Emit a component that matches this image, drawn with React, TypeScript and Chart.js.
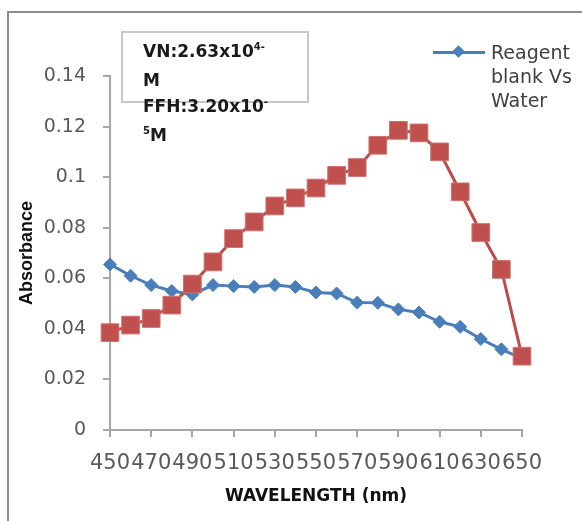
import React, { useEffect, useRef } from "react";
import { Chart, registerables } from "chart.js";

Chart.register(...registerables);

const wavelengths = [450, 460, 470, 480, 490, 500, 510, 520, 530, 540, 550, 560, 570, 580, 590, 600, 610, 620, 630, 640, 650];
const blankValues = [0.0655, 0.061, 0.0573, 0.055, 0.0536, 0.0573, 0.0569, 0.0566, 0.0573, 0.0566, 0.0544, 0.054, 0.0504, 0.0503, 0.0477, 0.0465, 0.0428, 0.0408, 0.036, 0.0319, 0.0283];
const sampleValues = [0.0385, 0.0415, 0.0441, 0.0494, 0.0577, 0.0665, 0.0757, 0.0823, 0.0886, 0.0918, 0.0957, 0.1007, 0.1038, 0.1126, 0.1185, 0.1175, 0.11, 0.0942, 0.0781, 0.0635, 0.0292];
const blankLabel = "Reagent blank Vs Water";
const xTitle = "WAVELENGTH (nm)";
const yTitle = "Absorbance";

const BLUE = "#4a7ebb";
const RED = "#be4b48";
const AXIS = "#a6a6a6";

export default function App() {
  const ref = useRef<HTMLCanvasElement | null>(null);

  useEffect(() => {
    if (!ref.current) return;
    const chart = new Chart(ref.current, {
      type: "line",
      data: {
        datasets: [
          {
            label: "",
            data: wavelengths.map((w, i) => ({ x: w, y: sampleValues[i] })),
            borderColor: RED,
            backgroundColor: "#c0504d",
            borderWidth: 3,
            pointStyle: "rect",
            pointRadius: 12.5,
            pointBorderWidth: 1,
            pointBorderColor: "#cc7270",
            pointBackgroundColor: "#c0504d",
            clip: false as any,
          },
          {
            label: blankLabel,
            data: wavelengths.map((w, i) => ({ x: w, y: blankValues[i] })),
            borderColor: BLUE,
            backgroundColor: BLUE,
            borderWidth: 3,
            pointStyle: "rectRot",
            pointRadius: 6.5,
            pointBorderWidth: 1,
            pointBorderColor: BLUE,
            pointBackgroundColor: BLUE,
            clip: false as any,
          },
        ],
      },
      options: {
        animation: false,
        responsive: false,
        maintainAspectRatio: false,
        layout: { padding: { top: 76, right: 60, left: 0, bottom: 0 } },
        plugins: { legend: { display: false }, tooltip: { enabled: false } },
        scales: {
          x: {
            type: "linear",
            min: 450,
            max: 650,
            afterFit: (s: any) => { s.height = 91; },
            ticks: {
              stepSize: 20,
              maxRotation: 0,
              autoSkip: false,
              padding: 14,
              color: "#595959",
              font: { family: "DejaVu Sans", size: 21 },
              callback: (v: any) => String(v),
            },
            grid: { display: true, drawOnChartArea: false, drawTicks: true, tickLength: 7, color: AXIS, lineWidth: 2 },
            border: { display: true, color: AXIS, width: 2 },
            title: {
              display: true,
              text: xTitle,
              color: "#111",
              font: { family: "DejaVu Sans", size: 17, weight: "bold" },
              padding: { top: 0, bottom: 14 },
            },
          },
          y: {
            type: "linear",
            min: 0,
            max: 0.14,
            afterFit: (s: any) => { s.width = 110; },
            ticks: {
              stepSize: 0.02,
              padding: 17,
              color: "#595959",
              font: { family: "DejaVu Sans", size: 19 },
              callback: (v: any) => String(+Number(v).toFixed(2)),
            },
            grid: { display: true, drawOnChartArea: false, drawTicks: true, tickLength: 7, color: AXIS, lineWidth: 2 },
            border: { display: true, color: AXIS, width: 2 },
            title: {
              display: true,
              text: yTitle,
              color: "#111",
              font: { family: "Liberation Sans", size: 18, weight: "bold" },
              padding: { top: 16, bottom: 0 },
            },
          },
        },
      },
    });
    return () => chart.destroy();
  }, []);

  return (
    <div style={{ position: "fixed", left: 0, top: 0, width: 582, height: 521, overflow: "hidden", background: "#fff" }}>
      <div style={{ position: "absolute", left: 7, top: 11, width: 700, height: 700, border: "2px solid #8c8c8c", boxSizing: "border-box" }} />
      <canvas ref={ref} width={582} height={521} style={{ position: "absolute", left: 0, top: 0, width: 582, height: 521 }} />
      <div
        style={{
          position: "absolute",
          left: 121,
          top: 31,
          width: 188,
          height: 72,
          border: "2px solid #c8c8c8",
          boxSizing: "border-box",
          paddingLeft: 20,
          paddingTop: 5,
          fontFamily: "DejaVu Sans",
          fontWeight: "bold",
          fontSize: 17,
          lineHeight: "26px",
          color: "#1a1a1a",
          whiteSpace: "nowrap",
        }}
      >
        <div>VN:2.63x10<span style={{ fontSize: 10, position: "relative", top: -7 }}>4-</span></div>
        <div>M</div>
        <div>FFH:3.20x10<span style={{ fontSize: 10, position: "relative", top: -7 }}>-</span></div>
        <div><span style={{ fontSize: 10, position: "relative", top: -7 }}>5</span>M</div>
      </div>
      <div style={{ position: "absolute", left: 433, top: 50.5, width: 52, height: 3, background: BLUE }} />
      <div style={{ position: "absolute", left: 454, top: 47, width: 9, height: 9, background: BLUE, transform: "rotate(45deg)" }} />
      <div
        style={{
          position: "absolute",
          left: 491,
          top: 40,
          fontFamily: "DejaVu Sans",
          fontSize: 19,
          lineHeight: "24px",
          color: "#404040",
        }}
      >
        <div>Reagent</div>
        <div>blank Vs</div>
        <div>Water</div>
      </div>
    </div>
  );
}
